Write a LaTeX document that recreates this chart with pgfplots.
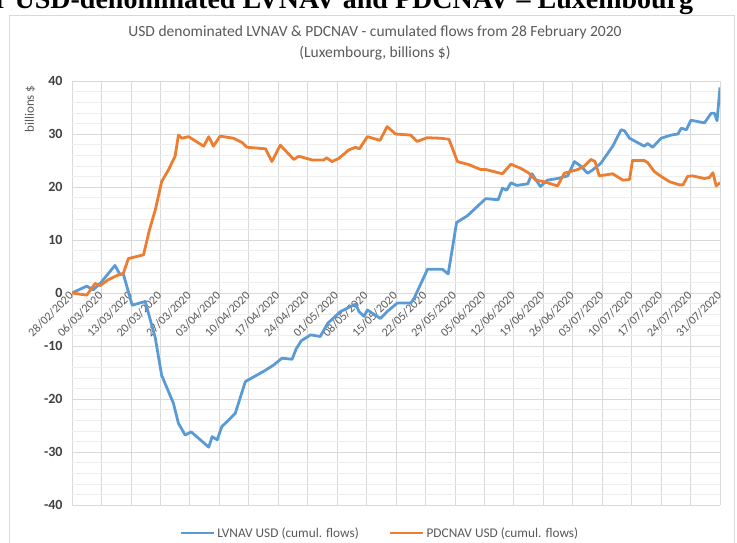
\documentclass[border=0pt]{standalone}
\usepackage{pgfplots}
\pgfplotsset{compat=1.18}
\usepackage{fontspec}
\setmainfont{Carlito}
\newfontfamily\headfont{Liberation Serif}

\definecolor{lvnav}{RGB}{91,155,213}
\definecolor{pdcnav}{RGB}{237,125,49}
\definecolor{majgrid}{RGB}{217,217,217}
\definecolor{mingrid}{RGB}{238,238,238}
\definecolor{txtgray}{RGB}{89,89,89}

\begin{document}
\begin{tikzpicture}
\path[use as bounding box] (0bp,0bp) rectangle (737bp,-543bp);
\draw[black!15] (9bp,-15bp) rectangle (734bp,-560bp);

% cut-off heading above the chart
\node[anchor=base west, inner sep=0pt, font=\headfont\bfseries\fontsize{28bp}{32bp}\selectfont]
  at (-5bp,-8bp) {r USD-denominated LVNAV and PDCNAV – Luxembourg};

\node[txtgray, font=\fontsize{15.5bp}{18bp}\selectfont] at (375bp,-32bp)
  {USD denominated LVNAV \& PDCNAV - cumulated flows from 28 February 2020};
\node[txtgray, font=\fontsize{15.5bp}{18bp}\selectfont] at (375bp,-53bp)
  {(Luxembourg, billions \$)};
\node[txtgray, rotate=90, font=\fontsize{13bp}{15bp}\selectfont] at (30bp,-109bp) {billions \$};

\begin{axis}[
  at={(72bp,-505bp)}, anchor=south west,
  scale only axis, width=648bp, height=424bp,
  xmin=0, xmax=154, ymin=-40, ymax=40,
  axis x line=middle, axis y line=left,
  hide obscured x ticks=false, hide obscured y ticks=false,
  x axis line style={-, draw=majgrid},
  y axis line style={draw=none},
  major tick length=0pt, minor tick length=0pt,
  xtick={0,7,...,154},
  xticklabels={28/02/2020,06/03/2020,13/03/2020,20/03/2020,27/03/2020,03/04/2020,
    10/04/2020,17/04/2020,24/04/2020,01/05/2020,08/05/2020,15/05/2020,22/05/2020,
    29/05/2020,05/06/2020,12/06/2020,19/06/2020,26/06/2020,03/07/2020,10/07/2020,
    17/07/2020,24/07/2020,31/07/2020},
  xticklabel style={rotate=45, anchor=east, txtgray, inner sep=1pt,
    font=\fontsize{12bp}{14bp}\selectfont},
  ytick={-40,-30,...,40},
  minor y tick num=4,
  yticklabel style={font=\bfseries\fontsize{14bp}{16bp}\selectfont, black!75, xshift=-6bp},
  /pgf/number format/assume math mode=true,
  xmajorgrids, ymajorgrids, yminorgrids,
  major grid style={majgrid, line width=0.8bp},
  minor grid style={mingrid, line width=0.6bp},
  legend style={at={(0.475,-0.066)}, anchor=center, draw=none, fill=none,
    legend columns=2, font=\fontsize{13.3bp}{15bp}\selectfont, text=txtgray,
    /tikz/every even column/.append style={column sep=28bp}},
  legend image code/.code={\draw[#1] (0bp,0bp) -- (33bp,0bp);},
  every axis plot/.append style={line width=2.8bp, line join=round},
]
\addplot[lvnav] coordinates {
(0,0) (3.5,1.3) (5,0.6) (6.7,1.8) (10.2,5.2) (11.4,3.5) (12.2,3.6) (14.3,-2.3)
(17.4,-1.6) (19.8,-8.5) (21.3,-15.5) (24.1,-20.8) (25.3,-24.6) (26.9,-26.8)
(28.3,-26.2) (30.5,-27.7) (32.5,-29.1) (33.3,-27.1) (34.5,-27.7) (35.6,-25.2)
(37.2,-24.0) (38.8,-22.7) (41.2,-16.7) (45.5,-14.8) (47.9,-13.6) (49.9,-12.3)
(52.3,-12.5) (53.3,-10.5) (54.5,-9.0) (56.7,-7.9) (59,-8.2) (60.8,-5.7)
(63.8,-3.5) (67.4,-2.1) (68.2,-3.5) (69.4,-4.4) (70.2,-3.2) (73.3,-4.8)
(74.9,-3.5) (77.3,-1.9) (80.5,-1.9) (81.3,-1.0) (84.5,4.5) (88,4.5) (89.4,3.6)
(91.4,13.3) (94,14.6) (97.5,17.2) (98.3,17.8) (101.3,17.6) (102.3,19.8)
(103.3,19.4) (104.3,20.8) (105.7,20.3) (108.3,20.6) (109.3,22.5) (111.3,20.1)
(113,21.3) (115.4,21.6) (117.8,22.1) (119.4,24.8) (121,23.9) (122.5,22.6)
(123.7,23.2) (125.7,24.5) (128.5,27.7) (130.5,30.8) (131.3,30.6) (132.5,29.2)
(136,27.7) (136.8,28.2) (138,27.5) (140,29.2) (142.4,29.8) (144,30) (144.8,31.1)
(146,30.8) (147.1,32.6) (150.3,32.1) (151.9,33.9) (152.7,33.9) (153.3,32.5)
(154,38.8)
};
\addlegendentry{LVNAV USD (cumul. flows)}
\addplot[pdcnav] coordinates {
(0,0) (3.5,-0.4) (5.5,1.8) (6.7,1.4) (8.6,2.5) (11,3.4) (12.2,3.7) (13.4,6.5)
(17,7.2) (18.4,11.9) (19.8,15.7) (21.3,21) (22.9,23.2) (24.5,25.8) (25.3,29.8)
(26.1,29.2) (27.7,29.5) (28.9,28.9) (31.3,27.7) (32.5,29.5) (33.6,27.7)
(35.2,29.6) (38.4,29.2) (40.4,28.4) (41.6,27.5) (46,27.2) (47.5,24.8) (49.5,27.9)
(52.7,25.2) (53.9,25.8) (57.1,25.1) (59.8,25.1) (60.5,25.5) (61.8,24.8)
(63.4,25.4) (65.8,27) (67.4,27.5) (68.3,27.2) (70.2,29.5) (73.2,28.8) (74.9,31.4)
(76.9,30) (80.5,29.8) (82,28.6) (84.4,29.3) (87.6,29.2) (89.6,29.0) (91.6,24.8)
(94.4,24.2) (97.1,23.3) (98.3,23.3) (102.3,22.5) (104.3,24.3) (106.7,23.5)
(108.6,22.6) (110.2,21.3) (112.2,21) (115.4,20.2) (117,22.6) (120.2,23.3)
(121.7,23.9) (123.3,25.2) (124.3,24.8) (125.3,22.1) (128.5,22.5) (130.9,21.3)
(132.5,21.4) (133.2,25) (136,25) (136.8,24.6) (138.4,22.9) (140,22) (142,21)
(144.4,20.4) (145.2,20.4) (146.3,22) (147.5,22.1) (150.3,21.6) (151.5,21.8)
(152.3,22.7) (153.1,20.2) (154,20.8)
};
\addlegendentry{PDCNAV USD (cumul. flows)}
\end{axis}
\end{tikzpicture}
\end{document}
